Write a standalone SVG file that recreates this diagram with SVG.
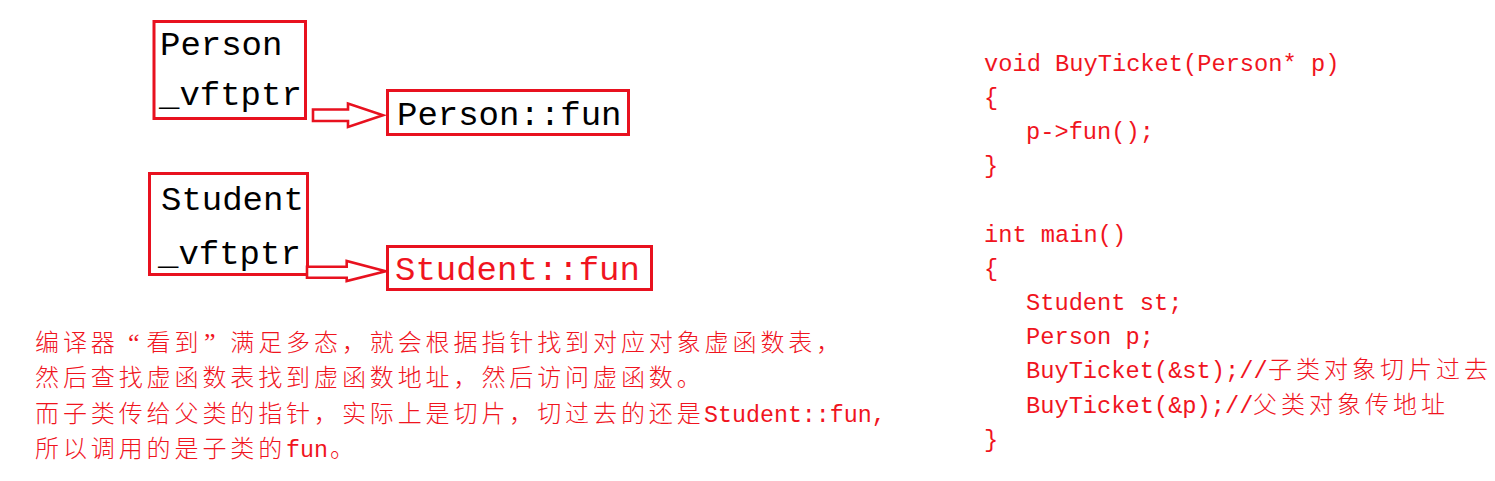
<svg xmlns="http://www.w3.org/2000/svg" width="1495" height="481" viewBox="0 0 1495 481">
<style>
.box{fill:none;stroke:#e8111f;stroke-width:3}
.arr{fill:#ffffff;stroke:#e8111f;stroke-width:2.6;stroke-linejoin:miter}
.nt{font-family:"Liberation Mono",monospace;font-size:34px;fill:#000000}
.nr{font-family:"Liberation Mono",monospace;font-size:34px;fill:#f0141e}
.code{font-family:"Liberation Mono",monospace;font-size:23.7px;fill:#f0141e}
.ccj{font-family:"Noto Sans CJK SC",sans-serif;font-size:24px;letter-spacing:4px;font-weight:300;fill:#f0141e}
.pcj{font-family:"Noto Sans CJK SC",sans-serif;font-size:24px;letter-spacing:3.9px;font-weight:300;fill:#f0141e}
.pq{font-family:"Liberation Serif",serif;font-size:26px;fill:#f0141e}
.pas{font-family:"Liberation Mono",monospace;font-size:23.3px;fill:#f0141e}
</style>
<rect width="1495" height="481" fill="#ffffff"/>
<g id="person">
<rect class="box" x="154" y="21.5" width="151.5" height="97"/>
<text class="nt" x="160" y="55">Person</text>
<text class="nt" x="159" y="105">_vftptr</text>
</g>
<g id="person-fun">
<rect class="box" x="387.5" y="90.5" width="241" height="44"/>
<text class="nt" x="397" y="125">Person::fun</text>
</g>
<g id="student">
<rect class="box" x="149.5" y="173.5" width="158" height="101"/>
<text class="nt" x="161" y="210">Student</text>
<text class="nt" x="158" y="264">_vftptr</text>
</g>
<g id="student-fun">
<rect class="box" x="387.5" y="246.5" width="264" height="43"/>
<text class="nr" x="395" y="280">Student::fun</text>
</g>
<g id="connectors">
<path class="arr" d="M313,109.5 H348 V103.5 L383,115.3 L348,127 V121 H313 Z"/>
<path class="arr" d="M307,266.7 H346.7 V261 L385.7,271.3 L346.7,281 V277.7 H307 Z"/>
</g>
<g id="explanation">
<text class="pcj" x="35" y="351">编译器</text>
<text class="pq" x="128" y="351">“</text>
<text class="pcj" x="146.6" y="351">看到</text>
<text class="pq" x="204" y="351">”</text>
<text class="pcj" x="230.3" y="351">满足多态，就会根据指针找到对应对象虚函数表，</text>
<text class="pcj" x="35" y="386">然后查找虚函数表找到虚函数地址，然后访问虚函数。</text>
<text class="pcj" x="35" y="422">而子类传给父类的指针，实际上是切片，切过去的还是</text>
<text class="pas" x="704" y="422">Student::fun,</text>
<text class="pcj" x="35" y="457">所以调用的是子类的</text>
<text class="pas" x="286" y="457">fun</text>
<text class="pcj" x="330" y="457">。</text>
</g>
<g id="code">
<text class="code" x="984" y="71">void BuyTicket(Person* p)</text>
<text class="code" x="984" y="105">{</text>
<text class="code" x="1026" y="139">p-&gt;fun();</text>
<text class="code" x="984" y="173">}</text>
<text class="code" x="984" y="242">int main()</text>
<text class="code" x="984" y="276">{</text>
<text class="code" x="1026" y="310">Student st;</text>
<text class="code" x="1026" y="344">Person p;</text>
<text class="code" x="1026" y="378">BuyTicket(&amp;st);//</text>
<text class="ccj" x="1268" y="378">子类对象切片过去</text>
<text class="code" x="1026" y="413">BuyTicket(&amp;p);//</text>
<text class="ccj" x="1253" y="413">父类对象传地址</text>
<text class="code" x="984" y="447">}</text>
</g>
</svg>
